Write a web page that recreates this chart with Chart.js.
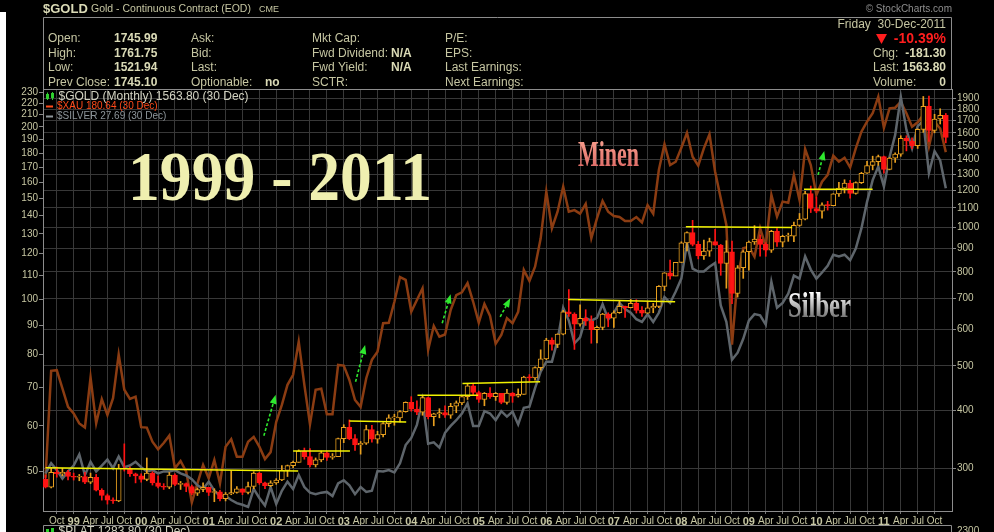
<!DOCTYPE html>
<html><head><meta charset="utf-8">
<script src="https://cdn.jsdelivr.net/npm/chart.js@4.4.0/dist/chart.umd.min.js"></script>
<style>
html,body{margin:0;padding:0;background:#000;overflow:hidden}
#wrap{width:994px;height:532px;position:relative}
canvas{display:block}
</style></head><body>
<div id="wrap"><canvas id="c" width="994" height="532"></canvas></div>
<script>
// ---------- categories (monthly) ----------
const months = [
"1998-08","1998-09","1998-10","1998-11","1998-12",
"1999-01","1999-02","1999-03","1999-04","1999-05","1999-06","1999-07","1999-08","1999-09","1999-10","1999-11","1999-12",
"2000-01","2000-02","2000-03","2000-04","2000-05","2000-06","2000-07","2000-08","2000-09","2000-10","2000-11","2000-12",
"2001-01","2001-02","2001-03","2001-04","2001-05","2001-06","2001-07","2001-08","2001-09","2001-10","2001-11","2001-12",
"2002-01","2002-02","2002-03","2002-04","2002-05","2002-06","2002-07","2002-08","2002-09","2002-10","2002-11","2002-12",
"2003-01","2003-02","2003-03","2003-04","2003-05","2003-06","2003-07","2003-08","2003-09","2003-10","2003-11","2003-12",
"2004-01","2004-02","2004-03","2004-04","2004-05","2004-06","2004-07","2004-08","2004-09","2004-10","2004-11","2004-12",
"2005-01","2005-02","2005-03","2005-04","2005-05","2005-06","2005-07","2005-08","2005-09","2005-10","2005-11","2005-12",
"2006-01","2006-02","2006-03","2006-04","2006-05","2006-06","2006-07","2006-08","2006-09","2006-10","2006-11","2006-12",
"2007-01","2007-02","2007-03","2007-04","2007-05","2007-06","2007-07","2007-08","2007-09","2007-10","2007-11","2007-12",
"2008-01","2008-02","2008-03","2008-04","2008-05","2008-06","2008-07","2008-08","2008-09","2008-10","2008-11","2008-12",
"2009-01","2009-02","2009-03","2009-04","2009-05","2009-06","2009-07","2009-08","2009-09","2009-10","2009-11","2009-12",
"2010-01","2010-02","2010-03","2010-04","2010-05","2010-06","2010-07","2010-08","2010-09","2010-10","2010-11","2010-12",
"2011-01","2011-02","2011-03","2011-04","2011-05","2011-06","2011-07","2011-08","2011-09","2011-10","2011-11","2011-12"
];

// ---------- $GOLD monthly OHLC ----------
const goldOpen = [
284,273,294,292,294,
288,287,288,280,287,269,262,256,255,300,299,292,
289,284,293,279,274,273,290,277,278,274,265,270,
273,266,267,258,264,266,271,266,274,293,279,275,
279,283,297,304,309,327,318,305,313,324,317,318,
348,368,348,337,340,364,347,355,375,386,386,398,
417,403,397,427,388,394,396,391,409,416,429,453,
438,423,436,429,436,417,437,430,434,473,471,496,
518,569,557,586,655,648,616,634,625,599,606,648,
635,652,673,669,683,660,651,668,673,744,796,783,
838,924,973,917,866,887,930,914,834,884,718,816,
884,928,942,917,891,979,927,955,955,1008,1040,1182,
1097,1082,1117,1113,1180,1214,1245,1182,1248,1308,1359,1386,
1421,1333,1410,1439,1556,1536,1500,1628,1826,1620,1714,1746
];
const goldHigh = [
290,300,302,300,297,
293,291,294,293,291,271,264,259,306,339,302,293,
292,316,295,289,278,294,292,281,279,276,272,279,
273,271,269,266,297,274,271,280,295,294,280,282,
285,304,305,311,329,332,331,316,327,326,323,349,
373,382,355,343,372,372,361,377,392,393,400,418,
429,420,430,428,395,404,410,415,420,430,457,456,
441,438,449,438,436,445,438,446,475,479,498,542,
574,575,587,660,732,652,678,662,642,610,650,652,
658,692,674,697,696,672,688,683,747,796,848,838,
929,976,1034,931,937,946,989,917,934,932,825,889,
932,1007,962,925,984,992,960,970,1025,1070,1195,1227,
1162,1128,1137,1181,1250,1266,1262,1253,1314,1388,1424,1432,
1425,1414,1448,1577,1577,1561,1633,1918,1923,1755,1804,1762
];
const goldLow = [
272,272,287,289,283,
283,282,278,278,268,256,251,252,254,296,288,279,
280,282,276,272,270,271,275,270,267,263,262,267,
262,254,255,255,263,265,263,264,271,277,271,274,
277,282,288,301,309,314,302,302,310,312,314,318,
341,346,328,322,338,342,340,351,369,372,378,397,
399,392,391,384,371,386,387,385,396,412,423,431,
417,410,425,421,414,413,417,428,434,463,466,490,
516,541,548,584,640,543,610,612,560,561,599,608,
606,650,637,668,651,640,650,652,669,728,771,784,
838,888,910,853,851,864,914,786,737,682,705,774,
806,917,865,864,881,908,906,931,930,1004,1036,1075,
1074,1045,1088,1112,1165,1185,1155,1178,1242,1307,1330,1360,
1308,1330,1381,1423,1462,1478,1480,1604,1532,1600,1672,1522
];
const goldClose = [
273,294,292,294,288,
287,288,280,287,269,262,256,255,300,299,292,289,
284,293,279,274,273,290,277,278,274,265,270,273,
266,267,258,264,266,271,266,274,293,279,275,279,
283,297,304,309,327,318,305,313,324,317,318,348,
368,348,337,340,364,347,355,375,386,386,398,417,
403,397,427,388,394,396,391,409,416,429,453,438,
423,436,429,436,417,437,430,434,473,471,496,518,
569,557,586,655,648,616,634,625,599,606,648,635,
652,673,669,683,660,651,668,673,744,796,783,838,
924,973,917,866,887,930,914,834,884,718,816,884,
928,942,917,891,979,927,955,955,1008,1040,1182,1097,
1082,1117,1113,1180,1214,1245,1182,1248,1308,1359,1386,1421,
1333,1410,1439,1556,1536,1500,1628,1826,1620,1714,1746,1563.8
];

// ---------- $XAU monthly close ----------
const xauClose = [
48.7,74.9,75.1,69.8,64.8,
63.1,60.6,59.6,72.9,60.6,66.8,62.7,67.1,80.0,69.4,66.9,67.5,
59.7,59.6,56.3,54.6,56.0,57.7,50.6,52.1,49.9,44.1,47.6,51.3,
48.6,52.3,47.6,55.2,56.9,53.0,53.0,56.3,57.4,55.2,52.5,54.0,
61.0,65.3,70.8,73.7,84.2,70.8,60.4,69.4,69.7,62.9,62.9,76.7,
76.5,72.2,66.6,64.8,72.7,78.3,80.9,90.7,90.9,98.9,109.2,108.0,
95.0,99.6,104.4,81.5,89.7,85.9,86.7,95.7,101.6,102.7,106.6,98.9,
90.9,98.0,93.4,83.5,86.5,92.6,90.7,95.0,112.4,107.5,113.9,127.7,
154.0,133.0,142.1,157.2,142.1,143.0,141.0,146.6,127.7,138.4,148.4,142.1,
139.7,139.1,136.9,136.9,139.1,136.1,146.0,141.0,168.1,186.4,171.5,173.8,
183.9,195.3,177.3,171.1,183.4,194.1,166.9,150.0,134.7,83.2,108.7,122.7,
123.4,118.6,133.0,123.5,152.0,139.3,148.0,147.3,164.8,149.0,182.9,171.5,
152.0,160.4,164.8,178.0,173.8,176.6,169.9,183.4,196.1,204.2,211.2,225.8,
199.3,215.5,216.0,221.2,211.2,200.0,203.7,209.7,184.6,204.2,198.6,180.64
];

// ---------- $SILVER monthly close ----------
const silverClose = [
4.90,5.21,5.00,4.75,4.96,
5.14,5.50,4.85,5.26,4.96,5.14,5.33,5.06,5.43,5.09,5.14,5.26,
5.09,4.96,5.00,4.90,4.96,4.96,5.00,4.90,4.84,4.73,4.56,4.46,
4.66,4.41,4.27,4.27,4.17,4.09,4.05,4.00,4.46,4.22,4.03,4.51,
4.07,4.41,4.66,4.46,4.85,4.51,4.36,4.32,4.36,4.38,4.27,4.61,
4.70,4.56,4.32,4.51,4.38,4.41,4.97,4.96,5.00,4.93,5.21,5.82,
6.08,6.58,7.66,5.87,5.92,5.73,6.27,6.54,6.77,7.05,7.50,6.54,
6.54,7.15,7.05,6.77,7.15,6.92,7.13,6.60,7.30,7.35,8.23,9.10,
9.66,9.66,11.0,13.4,12.4,10.8,11.2,12.6,12.4,12.6,13.7,12.5,
13.0,13.8,13.3,13.0,12.5,12.3,12.9,12.3,13.0,14.3,13.8,14.8,
16.0,19.9,17.0,16.7,16.7,17.2,17.6,13.6,12.3,9.77,10.2,11.1,
12.4,12.9,12.8,12.1,15.7,13.4,13.8,14.6,16.3,16.0,18.3,16.9,
16.0,16.6,17.3,18.5,18.3,18.5,17.9,19.2,21.7,25.5,29.1,31.6,
28.0,33.5,38.3,48.3,39.5,35.3,40.4,41.7,30.4,34.7,32.8,27.69
];

// ---------- tick labels ----------
const goldTicks = [300,400,500,600,700,800,900,1000,1100,1200,1300,1400,1500,1600,1700,1800,1900];
const xauTicks = [50,60,70,80,90,100,110,120,130,140,150,160,170,180,190,200,210,220,230];
const monthTickNames = {"04":"Apr","07":"Jul","10":"Oct"};

// ---------- chart annotations (in data units: month index, gold price) ----------
const trendLines = [
  [[0,301],[44.9,296]],
  [[44.0,327],[54.1,327]],
  [[54.0,380],[64.1,378]],
  [[66.1,432],[76.9,432]],
  [[74.1,458],[87.9,462]],
  [[92.9,697],[111.9,689]],
  [[113.8,1002],[132.7,998]],
  [[134.8,1207],[147.0,1207]]
];
const arrows = [
  [[38.8,353],[40.9,433]],
  [[55.1,462],[56.8,555]],
  [[70.5,619],[72.0,715]],
  [[80.8,639],[82.6,701]],
  [[137.3,1297],[138.4,1461]]
];

// ---------- styles ----------
const TXT = '#c6c6a2', TXTB = '#dadab6', GRID = '#383838', FRAME = '#8c8c8c';
const UP = '#e8a020', DOWN = '#ff1414';
const SANS = '"Liberation Sans", Arial, sans-serif';
const SERIF = '"Liberation Serif", "Times New Roman", serif';

const isUp = i => goldClose[i] >= goldOpen[i];
const quarterIdx = months.map((m,i)=>[m,i]).filter(([m])=>["01","04","07","10"].includes(m.slice(5))).map(([,i])=>i);
function xLabel(v){
  const m = months[Math.round(v)]; if(!m) return '';
  const mm = m.slice(5);
  return mm === "01" ? m.slice(2,4) : monthTickNames[mm];
}

function t(ctx, s, x, y, font, color, align){
  ctx.font = font; ctx.fillStyle = color; ctx.textAlign = align || 'left'; ctx.textBaseline = 'middle';
  ctx.fillText(s, x, y);
}
function scaledText(ctx, s, x, yBase, font, targetW, fill){
  ctx.save(); ctx.font = font;
  const w = ctx.measureText(s).width;
  ctx.translate(x, yBase); ctx.scale(targetW / w, 1);
  ctx.fillStyle = typeof fill === 'function' ? fill(ctx) : fill;
  ctx.textAlign = 'left'; ctx.textBaseline = 'alphabetic';
  ctx.fillText(s, 0, 0); ctx.restore();
}

const deco = {
  id: 'deco',
  beforeDraw(chart){
    const ctx = chart.ctx; ctx.save();
    ctx.fillStyle = '#000'; ctx.fillRect(0,0,chart.width,chart.height);
    ctx.restore();
  },
  beforeDatasetsDraw(chart){
    const ctx = chart.ctx; ctx.save();
    scaledText(ctx, '1999 - 2011', 128, 200, 'bold 69px ' + SERIF, 304, '#efefb0');
    scaledText(ctx, 'Minen', 578, 165.5, 'bold 36px ' + SERIF, 61, c => {
      const g = c.createLinearGradient(0,-24,0,0); g.addColorStop(0,'#f59a8a'); g.addColorStop(1,'#e0706a'); return g; });
    scaledText(ctx, 'Silber', 788, 316.5, 'bold 36px ' + SERIF, 63, c => {
      const g = c.createLinearGradient(0,-24,0,0); g.addColorStop(0,'#ffffff'); g.addColorStop(1,'#7a7a7a'); return g; });
    ctx.restore();
  },
  afterDatasetsDraw(chart){
    const ctx = chart.ctx, xs = chart.scales.x, ys = chart.scales.yGold;
    const P = p => [xs.getPixelForValue(p[0]), ys.getPixelForValue(p[1])];
    ctx.save();
    ctx.strokeStyle = '#f2f200'; ctx.lineWidth = 1.5;
    trendLines.forEach(([a,b]) => {
      const [x1,y1] = P(a), [x2,y2] = P(b);
      ctx.beginPath(); ctx.moveTo(x1,y1); ctx.lineTo(x2,y2); ctx.stroke();
    });
    arrows.forEach(([a,b]) => {
      const [x1,y1] = P(a), [x2,y2] = P(b);
      const ang = Math.atan2(y2-y1, x2-x1), head = 9, hw = 3.5;
      const bx = x2 - head*Math.cos(ang), by = y2 - head*Math.sin(ang);
      ctx.strokeStyle = '#2ee82e'; ctx.lineWidth = 1.6; ctx.setLineDash([3,2]);
      ctx.beginPath(); ctx.moveTo(x1,y1); ctx.lineTo(bx,by); ctx.stroke(); ctx.setLineDash([]);
      ctx.fillStyle = '#2ee82e'; ctx.beginPath(); ctx.moveTo(x2,y2);
      ctx.lineTo(bx + hw*Math.sin(ang), by - hw*Math.cos(ang));
      ctx.lineTo(bx - hw*Math.sin(ang), by + hw*Math.cos(ang));
      ctx.closePath(); ctx.fill();
    });
    ctx.restore();
  },
  afterDraw(chart){
    const ctx = chart.ctx, a = chart.chartArea;
    ctx.save();
    // header
    t(ctx, '$GOLD', 43, 9, 'bold 13px ' + SANS, TXTB);
    t(ctx, 'Gold - Continuous Contract (EOD)', 91, 9, '10.5px ' + SANS, TXT);
    t(ctx, 'CME', 259, 9.5, '9px ' + SANS, TXT);
    t(ctx, '\u00A9 StockCharts.com', 952, 9, '10px ' + SANS, '#8e8e8e', 'right');
    // frame
    ctx.strokeStyle = FRAME; ctx.lineWidth = 1;
    ctx.beginPath();
    ctx.moveTo(43.5, 89); ctx.lineTo(43.5, 17.5); ctx.lineTo(951.5, 17.5); ctx.lineTo(951.5, 89);
    ctx.moveTo(a.left, a.top + 0.5); ctx.lineTo(a.right, a.top + 0.5);
    ctx.stroke();
    const rows = [39, 53.3, 67.7, 82.3];
    const F = '12px ' + SANS, FB = 'bold 12px ' + SANS;
    ['Open:','High:','Low:','Prev Close:'].forEach((s,k)=>t(ctx, s, 48, rows[k], F, TXT));
    ['1745.99','1761.75','1521.94','1745.10'].forEach((s,k)=>t(ctx, s, 114, rows[k], FB, TXTB));
    ['Ask:','Bid:','Last:','Optionable:'].forEach((s,k)=>t(ctx, s, 191, rows[k], F, TXT));
    t(ctx, 'no', 265, rows[3], FB, TXTB);
    ['Mkt Cap:','Fwd Dividend:','Fwd Yield:','SCTR:'].forEach((s,k)=>t(ctx, s, 312, rows[k], F, TXT));
    t(ctx, 'N/A', 391, rows[1], FB, TXTB); t(ctx, 'N/A', 391, rows[2], FB, TXTB);
    ['P/E:','EPS:','Last Earnings:','Next Earnings:'].forEach((s,k)=>t(ctx, s, 445, rows[k], F, TXT));
    t(ctx, 'Friday  30-Dec-2011', 946, 24.5, F, TXT, 'right');
    t(ctx, '-10.39%', 946, 39, 'bold 14px ' + SANS, '#ff1e1e', 'right');
    ctx.fillStyle = '#ff1e1e'; ctx.beginPath(); ctx.moveTo(876,34); ctx.lineTo(887,34); ctx.lineTo(881.5,44); ctx.closePath(); ctx.fill();
    t(ctx, 'Chg:', 873, rows[1], F, TXT); t(ctx, '-181.30', 946, rows[1], FB, TXTB, 'right');
    t(ctx, 'Last:', 873, rows[2], F, TXT); t(ctx, '1563.80', 946, rows[2], FB, TXTB, 'right');
    t(ctx, 'Volume:', 873, rows[3], F, TXT); t(ctx, '0', 946, rows[3], FB, TXTB, 'right');
    // legend
    ctx.fillStyle = '#2ed02e';
    ctx.fillRect(46, 94, 3, 5); ctx.fillRect(51, 93, 3, 5); ctx.fillRect(47, 92.5, 1, 7.5); ctx.fillRect(52, 92, 1, 8);
    t(ctx, '$GOLD (Monthly) 1563.80 (30 Dec)', 58.5, 97, '12px ' + SANS, '#d2d2c0');
    ctx.fillStyle = '#ff4a1a'; ctx.fillRect(46, 105.5, 7, 2);
    t(ctx, '$XAU 180.64 (30 Dec)', 57, 106.7, '10px ' + SANS, '#ff4a1a');
    ctx.fillStyle = '#8d959a'; ctx.fillRect(46, 115.5, 7, 2);
    t(ctx, '$SILVER 27.69 (30 Dec)', 57, 116.7, '10px ' + SANS, '#8d959a');
    // bottom (next panel)
    ctx.strokeStyle = FRAME; ctx.beginPath();
    ctx.moveTo(43.5, 532); ctx.lineTo(43.5, 525.5); ctx.lineTo(951.5, 525.5); ctx.lineTo(951.5, 532); ctx.stroke();
    ctx.fillStyle = '#2ed02e'; ctx.fillRect(46, 529, 3, 4); ctx.fillRect(51, 528, 3, 4);
    t(ctx, '$PLAT 1283.80 (30 Dec)', 58.5, 532, '12px ' + SANS, '#d2d2c0');
    t(ctx, '2300', 957, 531, '10px ' + SANS, TXT);
    // page strip
    ctx.fillStyle = '#ffffff'; ctx.fillRect(0, 12, 6, 520);
    ctx.restore();
  }
};

const bodies = goldOpen.map((o,i)=>({x:i, y:[o, goldClose[i]]}));
const wicks = goldLow.map((l,i)=>({x:i, y:[l, goldHigh[i]]}));

new Chart(document.getElementById('c'), {
  type: 'bar',
  data: {
    datasets: [
      { type:'bar', label:'body', data: bodies, yAxisID:'yGold', order:0, grouped:false,
        barThickness:5, minBarLength:1, borderSkipped:false, borderWidth:1,
        backgroundColor: c => isUp(c.dataIndex) ? '#000000' : DOWN,
        borderColor: c => isUp(c.dataIndex) ? UP : DOWN },
      { type:'bar', label:'wick', data: wicks, yAxisID:'yGold', order:1, grouped:false,
        barThickness:1, borderWidth:0,
        backgroundColor: c => isUp(c.dataIndex) ? UP : DOWN },
      { type:'line', label:'$SILVER', data: silverClose.map((v,i)=>({x:i,y:v})), yAxisID:'ySil', order:2,
        borderColor:'#5e656b', borderWidth:2.5, pointRadius:0, tension:0 },
      { type:'line', label:'$XAU', data: xauClose.map((v,i)=>({x:i,y:v})), yAxisID:'yXau', order:3,
        borderColor:'#8b3c12', borderWidth:2.5, pointRadius:0, tension:0 }
    ]
  },
  options: {
    responsive:false, animation:false, devicePixelRatio:1,
    layout:{ padding:{top:89,left:0,right:0,bottom:0}, autoPadding:false },
    plugins:{ legend:{display:false}, tooltip:{enabled:false} },
    scales:{
      x:{ type:'linear', min:-0.45, max:161.1, offset:false,
        afterBuildTicks: s => { s.ticks = quarterIdx.map(v=>({value:v})); },
        afterFit: s => { s.height = 21; },
        ticks:{ autoSkip:false, maxRotation:0, minRotation:0, padding:1, color:TXT,
          font: c => (c.tick && months[c.tick.value] && months[c.tick.value].slice(5)==='01')
                ? {family:SANS, size:11, weight:'bold'} : {family:SANS, size:10},
          callback: v => xLabel(v) },
        grid:{ color:GRID, tickLength:3, tickColor:'#777', offset:false },
        border:{ color:FRAME } },
      yGold:{ type:'logarithmic', position:'right', min:242.5, max:1991,
        afterBuildTicks: s => { s.ticks = goldTicks.map(v=>({value:v})); },
        afterFit: s => { s.width = 42; },
        ticks:{ autoSkip:false, padding:1, color:TXT, font:{family:SANS, size:10}, callback: v => String(v) },
        grid:{ color:GRID, tickLength:4, tickColor:'#888' },
        border:{ color:FRAME } },
      yXau:{ type:'logarithmic', position:'left', min:42.6, max:232.9,
        afterBuildTicks: s => { s.ticks = xauTicks.map(v=>({value:v})); },
        afterFit: s => { s.width = 43; },
        ticks:{ autoSkip:false, padding:1, color:TXT, font:{family:SANS, size:10}, callback: v => String(v) },
        grid:{ drawOnChartArea:false, tickLength:4, tickColor:'#888' },
        border:{ color:FRAME } },
      ySil:{ type:'logarithmic', display:false, min:3.9, max:50.62 }
    }
  },
  plugins:[deco]
});
</script>
</body></html>
